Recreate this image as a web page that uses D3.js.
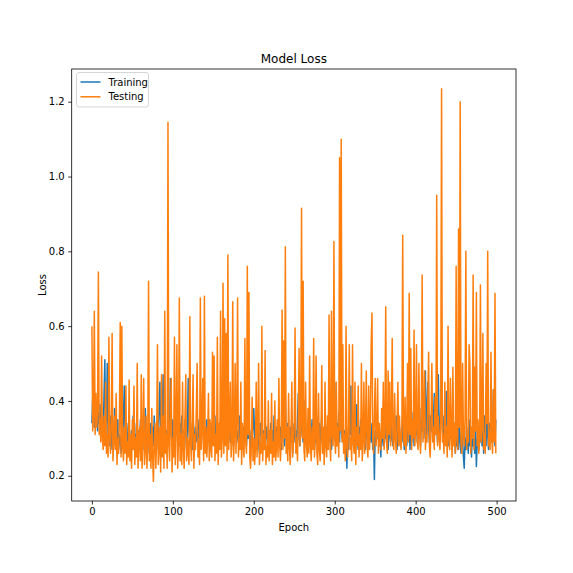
<!DOCTYPE html>
<html>
<head>
<meta charset="utf-8">
<script src="https://cdn.jsdelivr.net/npm/d3@7"></script>
<style>
html,body{margin:0;padding:0;background:#fff;}
svg{display:block;}
text{font-family:"DejaVu Sans",sans-serif;}
</style>
</head>
<body>
<svg id="chart" width="573" height="573"></svg>
<script>
const title = "Model Loss";
const xLabel = "Epoch";
const yLabel = "Loss";
const seriesNames = ["Training", "Testing"];
const xTicks = [0, 100, 200, 300, 400, 500];
const yTicks = [0.2, 0.4, 0.6, 0.8, 1.0, 1.2];

const training = [
0.34,0.41,0.45,0.33,0.38,0.35,0.40,0.32,0.37,0.34,
0.39,0.31,0.36,0.33,0.30,0.42,0.51,0.32,0.35,0.50,
0.30,0.34,0.28,0.36,0.31,0.27,0.33,0.30,0.38,0.28,
0.32,0.29,0.35,0.27,0.31,0.30,0.26,0.33,0.29,0.36,
0.44,0.31,0.28,0.34,0.30,0.27,0.33,0.29,0.25,0.32,
0.30,0.36,0.28,0.31,0.27,0.34,0.30,0.26,0.32,0.29,
0.35,0.28,0.31,0.27,0.33,0.30,0.38,0.28,0.32,0.26,
0.31,0.29,0.34,0.27,0.30,0.33,0.28,0.36,0.29,0.31,
0.27,0.33,0.30,0.38,0.45,0.32,0.29,0.35,0.47,0.31,
0.34,0.29,0.32,0.28,0.36,0.30,0.33,0.46,0.31,0.28,
0.35,0.30,0.27,0.33,0.31,0.38,0.29,0.32,0.28,0.34,
0.30,0.36,0.28,0.32,0.29,0.35,0.31,0.27,0.33,0.46,
0.32,0.29,0.34,0.30,0.27,0.36,0.31,0.28,0.33,0.30,
0.29,0.35,0.31,0.28,0.34,0.30,0.32,0.43,0.29,0.33,
0.31,0.28,0.35,0.30,0.33,0.29,0.27,0.34,0.31,0.29,
0.33,0.30,0.36,0.28,0.32,0.30,0.34,0.29,0.31,0.35,
0.40,0.30,0.33,0.28,0.35,0.31,0.29,0.36,0.32,0.30,
0.34,0.29,0.31,0.37,0.30,0.28,0.33,0.31,0.35,0.29,
0.32,0.30,0.36,0.28,0.34,0.31,0.29,0.33,0.30,0.35,
0.31,0.28,0.34,0.30,0.36,0.29,0.25,0.32,0.30,0.33,
0.38,0.31,0.28,0.35,0.30,0.33,0.29,0.26,0.34,0.31,
0.36,0.29,0.32,0.27,0.35,0.30,0.33,0.28,0.31,0.26,
0.30,0.34,0.28,0.32,0.27,0.36,0.30,0.29,0.33,0.28,
0.31,0.35,0.29,0.33,0.27,0.38,0.30,0.32,0.28,0.40,
0.31,0.28,0.34,0.30,0.27,0.33,0.29,0.36,0.26,0.31,
0.34,0.29,0.32,0.27,0.35,0.42,0.30,0.28,0.33,0.36,
0.31,0.29,0.40,0.30,0.34,0.28,0.33,0.27,0.36,0.30,
0.32,0.28,0.35,0.30,0.33,0.27,0.31,0.29,0.36,0.28,
0.30,0.34,0.27,0.32,0.36,0.29,0.31,0.27,0.35,0.30,
0.33,0.28,0.31,0.38,0.29,0.34,0.27,0.32,0.30,0.36,
0.45,0.31,0.28,0.34,0.30,0.37,0.29,0.40,0.33,0.30,
0.35,0.28,0.32,0.29,0.34,0.22,0.30,0.27,0.33,0.31,
0.44,0.30,0.34,0.28,0.32,0.36,0.29,0.39,0.31,0.27,
0.33,0.30,0.35,0.28,0.32,0.29,0.37,0.31,0.27,0.34,
0.30,0.33,0.28,0.36,0.31,0.29,0.34,0.27,0.30,0.19,
0.32,0.29,0.35,0.30,0.33,0.28,0.31,0.25,0.34,0.30,
0.28,0.33,0.30,0.36,0.29,0.32,0.27,0.34,0.31,0.29,
0.35,0.30,0.28,0.33,0.31,0.29,0.36,0.27,0.32,0.30,
0.33,0.28,0.31,0.29,0.36,0.30,0.27,0.34,0.31,0.28,
0.32,0.30,0.35,0.27,0.33,0.29,0.31,0.37,0.28,0.34,
0.31,0.36,0.29,0.33,0.30,0.38,0.28,0.35,0.32,0.40,
0.30,0.34,0.48,0.31,0.37,0.45,0.33,0.29,0.36,0.32,
0.38,0.30,0.35,0.42,0.31,0.36,0.33,0.29,0.47,0.34,
0.31,0.37,0.54,0.33,0.30,0.36,0.29,0.34,0.425,0.31,
0.35,0.28,0.33,0.30,0.37,0.27,0.32,0.29,0.34,0.26,
0.31,0.28,0.35,0.27,0.33,0.30,0.26,0.32,0.29,0.25,
0.22,0.30,0.27,0.33,0.29,0.26,0.35,0.28,0.31,0.25,
0.32,0.28,0.30,0.26,0.34,0.225,0.29,0.31,0.27,0.33,
0.29,0.35,0.28,0.32,0.26,0.36,0.30,0.28,0.38,0.31,
0.27,0.34,0.30,0.36,0.29,0.33,0.43,0.31,0.28,0.35
];

const testing = [
0.60,0.32,0.36,0.64,0.31,0.42,0.33,0.38,0.745,0.31,
0.35,0.29,0.52,0.30,0.27,0.36,0.28,0.45,0.26,0.31,
0.25,0.57,0.30,0.26,0.34,0.58,0.24,0.29,0.36,0.27,
0.42,0.23,0.30,0.26,0.35,0.61,0.25,0.60,0.28,0.24,
0.33,0.26,0.44,0.23,0.29,0.25,0.456,0.24,0.31,0.22,
0.35,0.27,0.44,0.23,0.30,0.25,0.50,0.22,0.28,0.33,
0.24,0.47,0.22,0.30,0.46,0.23,0.27,0.36,0.22,0.29,
0.72,0.24,0.31,0.22,0.38,0.25,0.185,0.29,0.34,0.22,
0.30,0.55,0.23,0.27,0.33,0.21,0.47,0.25,0.36,0.22,
0.64,0.26,0.31,0.22,1.145,0.28,0.24,0.35,0.46,0.21,
0.30,0.25,0.57,0.23,0.33,0.55,0.22,0.29,0.675,0.24,
0.31,0.23,0.45,0.27,0.22,0.36,0.47,0.24,0.30,0.26,
0.23,0.625,0.28,0.24,0.34,0.47,0.22,0.31,0.27,0.38,
0.50,0.25,0.29,0.23,0.675,0.27,0.32,0.46,0.24,0.68,
0.26,0.33,0.25,0.30,0.42,0.24,0.35,0.27,0.25,0.53,
0.28,0.52,0.24,0.31,0.26,0.57,0.23,0.34,0.27,0.64,
0.25,0.30,0.715,0.26,0.62,0.28,0.58,0.24,0.79,0.27,
0.33,0.45,0.25,0.29,0.665,0.24,0.31,0.50,0.26,0.35,
0.675,0.25,0.30,0.27,0.45,0.23,0.34,0.28,0.25,0.567,
0.29,0.26,0.76,0.31,0.69,0.25,0.22,0.28,0.41,0.24,
0.30,0.23,0.27,0.45,0.25,0.33,0.50,0.23,0.29,0.26,
0.60,0.24,0.31,0.27,0.535,0.23,0.28,0.25,0.40,0.24,
0.32,0.26,0.42,0.23,0.29,0.25,0.40,0.24,0.27,0.35,
0.25,0.46,0.28,0.24,0.31,0.643,0.27,0.56,0.30,0.812,
0.26,0.33,0.24,0.42,0.28,0.23,0.31,0.45,0.25,0.29,
0.34,0.595,0.26,0.30,0.24,0.36,0.54,0.28,0.33,0.915,
0.30,0.72,0.27,0.24,0.45,0.29,0.25,0.38,0.26,0.52,
0.28,0.24,0.33,0.27,0.567,0.25,0.31,0.52,0.26,0.23,
0.42,0.27,0.24,0.30,0.495,0.26,0.33,0.23,0.45,0.28,
0.25,0.36,0.27,0.63,0.29,0.24,0.64,0.31,0.28,0.826,
0.30,0.26,0.45,0.28,0.33,0.25,1.05,0.32,1.10,0.29,
0.55,0.26,0.31,0.24,0.60,0.28,0.25,0.34,0.55,0.27,
0.30,0.24,0.55,0.29,0.26,0.45,0.23,0.33,0.28,0.44,
0.25,0.31,0.27,0.50,0.24,0.29,0.45,0.26,0.32,0.48,
0.28,0.25,0.44,0.27,0.33,0.548,0.635,0.30,0.26,0.36,
0.46,0.28,0.31,0.46,0.26,0.34,0.29,0.27,0.38,0.30,
0.45,0.27,0.33,0.652,0.29,0.26,0.48,0.31,0.45,0.28,
0.35,0.567,0.29,0.27,0.42,0.30,0.26,0.33,0.45,0.28,
0.36,0.29,0.27,0.34,0.843,0.30,0.28,0.41,0.26,0.33,
0.50,0.29,0.688,0.31,0.54,0.27,0.35,0.30,0.59,0.28,
0.33,0.55,0.29,0.27,0.50,0.31,0.26,0.36,0.737,0.29,
0.34,0.48,0.27,0.31,0.29,0.40,0.53,0.28,0.25,0.35,
0.50,0.29,0.33,0.27,0.41,0.31,0.95,0.28,0.36,0.30,
0.27,0.34,1.235,0.29,0.31,0.26,0.45,0.28,0.33,0.25,
0.60,0.30,0.27,0.46,0.31,0.25,0.49,0.28,0.34,0.26,
0.76,0.30,0.27,0.86,0.33,1.20,0.29,0.26,0.50,0.31,
0.28,0.35,0.80,0.27,0.31,0.29,0.55,0.50,0.26,0.33,
0.30,0.737,0.27,0.49,0.32,0.69,0.28,0.35,0.26,0.30,
0.71,0.29,0.33,0.58,0.27,0.31,0.26,0.50,0.34,0.80,
0.28,0.32,0.27,0.53,0.30,0.26,0.43,0.29,0.688,0.26
];

const colors = ["#1f77b4", "#ff7f0e"];

const svg = d3.select("#chart");
const m = {left: 71.7, right: 516, top: 69, bottom: 501};

const n = training.length;
const xMinD = 0, xMaxD = n - 1;
const xPad = (xMaxD - xMinD) * 0.05;
const x = d3.scaleLinear().domain([xMinD - xPad, xMaxD + xPad]).range([m.left, m.right]);

const allVals = training.concat(testing);
const yMinD = d3.min(allVals), yMaxD = d3.max(allVals);
const yPad = (yMaxD - yMinD) * 0.05;
const y = d3.scaleLinear().domain([yMinD - yPad, yMaxD + yPad]).range([m.bottom, m.top]);

// Lines
const line = d3.line().x((d, i) => x(i)).y(d => y(d));
[training, testing].forEach((arr, k) => {
  svg.append("path")
    .datum(arr)
    .attr("fill", "none")
    .attr("stroke", colors[k])
    .attr("stroke-width", 1.5)
    .attr("stroke-linejoin", "round")
    .attr("stroke-linecap", "butt")
    .attr("d", line);
});

// Axes
const xAxis = d3.axisBottom(x).tickValues(xTicks).tickSize(3.5).tickPadding(3.5).tickFormat(d3.format("d"));
const yAxis = d3.axisLeft(y).tickValues(yTicks).tickSize(3.5).tickPadding(3.5).tickFormat(d3.format(".1f"));

const gx = svg.append("g").attr("transform", `translate(0,${m.bottom})`).call(xAxis);
const gy = svg.append("g").attr("transform", `translate(${m.left},0)`).call(yAxis);
[gx, gy].forEach(g => {
  g.select(".domain").remove();
  g.selectAll(".tick line").attr("stroke", "#000").attr("stroke-width", 0.8);
  g.selectAll(".tick text").attr("fill", "#000").style("font-size", "10px").style("font-family", "DejaVu Sans");
});

// Frame
svg.append("rect")
  .attr("x", m.left).attr("y", m.top)
  .attr("width", m.right - m.left).attr("height", m.bottom - m.top)
  .attr("fill", "none").attr("stroke", "#000").attr("stroke-width", 0.8);

// Title and labels
const cx = (m.left + m.right) / 2;
svg.append("text").attr("x", cx).attr("y", 63).attr("text-anchor", "middle")
  .style("font-size", "12px").attr("fill", "#000").text(title);
svg.append("text").attr("x", cx).attr("y", 531).attr("text-anchor", "middle")
  .style("font-size", "10px").attr("fill", "#000").text(xLabel);
svg.append("text").attr("transform", `translate(45.5,${(m.top + m.bottom) / 2}) rotate(-90)`)
  .attr("text-anchor", "middle")
  .style("font-size", "10px").attr("fill", "#000").text(yLabel);

// Legend
const lg = svg.append("g");
lg.append("rect").attr("x", 76.5).attr("y", 72.5).attr("width", 72).attr("height", 34.5)
  .attr("rx", 2.5).attr("fill", "#fff").attr("fill-opacity", 0.8)
  .attr("stroke", "#cccccc").attr("stroke-width", 0.8);
seriesNames.forEach((name, k) => {
  const yy = 82 + k * 14.8;
  lg.append("line").attr("x1", 80.5).attr("x2", 100.5).attr("y1", yy).attr("y2", yy)
    .attr("stroke", colors[k]).attr("stroke-width", 1.5);
  lg.append("text").attr("x", 108.5).attr("y", yy + 3.6)
    .style("font-size", "10px").attr("fill", "#000").text(name);
});
</script>
</body>
</html>
